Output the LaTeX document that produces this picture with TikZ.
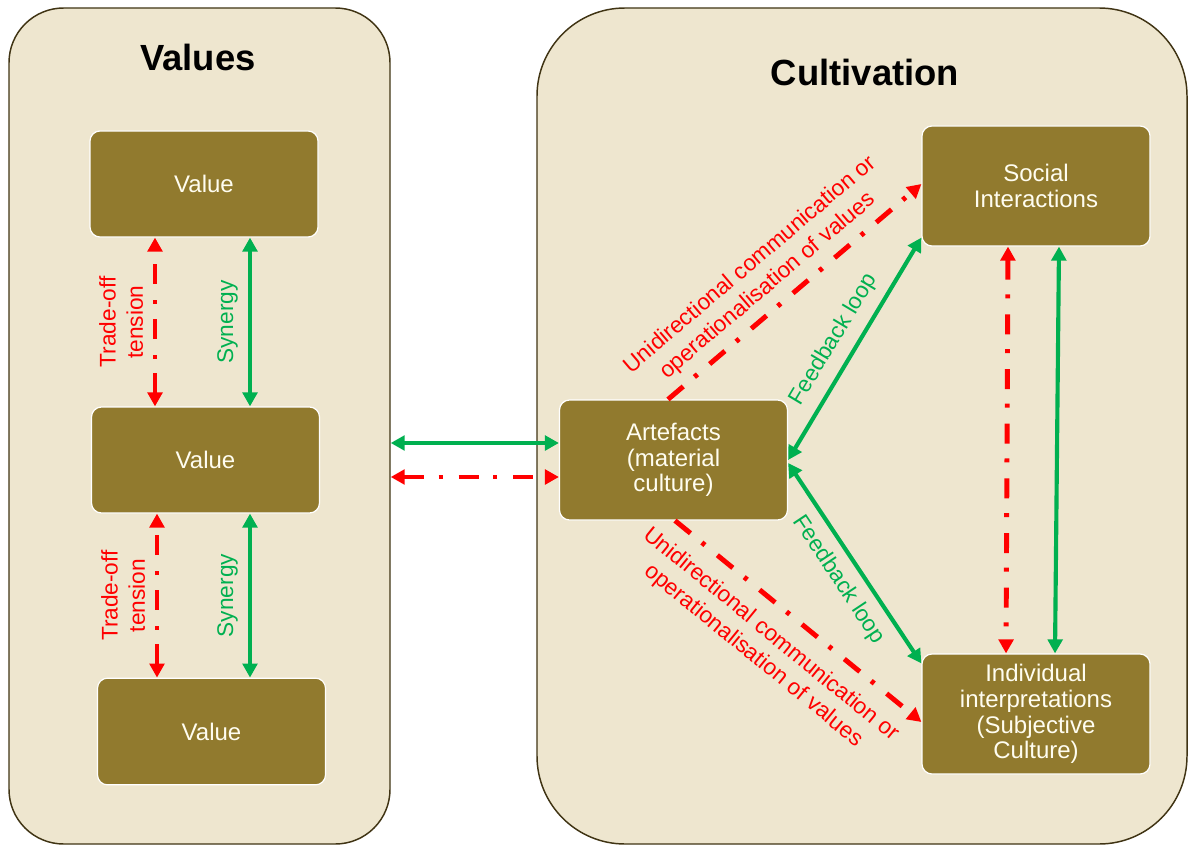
\documentclass[tikz,border=0pt]{standalone}
\usepackage{fontspec}
\setmainfont{Liberation Sans}
\usetikzlibrary{arrows.meta,calc}
\definecolor{panelfill}{RGB}{238,230,207}
\definecolor{paneledge}{RGB}{64,52,20}
\definecolor{boxfill}{RGB}{145,122,46}
\definecolor{boxtext}{RGB}{255,253,240}
\definecolor{tieRed}{RGB}{255,0,0}
\definecolor{tieGreen}{RGB}{0,176,80}

\begin{document}
\begin{tikzpicture}[x=0.75pt,y=-0.75pt,
  panel/.style={draw=paneledge, line width=1.1pt, fill=panelfill, minimum height=627pt, inner sep=0pt},
  item/.style={draw=white, line width=0.9pt, fill=boxfill, rounded corners=7.5pt, text=boxtext,
    align=center, font=\fontsize{18}{19.3}\selectfont, minimum width=171pt, inner sep=0pt},
  title/.style={font=\fontsize{27.3}{32}\selectfont\bfseries},
  greentie/.style={draw=tieGreen, line width=3.1pt},
  redtie/.style={draw=tieRed, line width=3.7pt, dash pattern=on 15pt off 11pt on 3pt off 12pt},
  twoheads/.style={{Triangle[length=10.5pt,width=11pt]}-{Triangle[length=10.5pt,width=11pt]}},
  onehead/.style={-{Triangle[length=10.5pt,width=11pt]}},
  lbl/.style={sloped, align=center, font=\fontsize{17}{20.5}\selectfont, inner sep=#1},
]
\useasboundingbox (0,0) rectangle (1188,845);

% the two panels
\node[panel, minimum width=285.75pt, rounded corners=41pt] (valpanel) at (199.5,426) {};
\node[panel, minimum width=487.5pt, rounded corners=66pt] (cultpanel) at (862,426) {};

\node[title] (valtitle) at (198,57) {Values};
\node[title] (culttitle) at (865,72) {Cultivation};

% value boxes
\node[item, minimum height=79.5pt] (v1) at (204,184) {Value};
\node[item, minimum height=79.5pt] (v2) at (205.5,460) {Value};
\node[item, minimum height=80pt] (v3) at (211.5,731.5) {Value};

% cultivation boxes
\node[item, minimum height=90pt] (art) at (673.5,460) {Artefacts\\(material\\culture)};
\node[item, minimum height=90pt] (soc) at (1036,186) {Social\\Interactions};
\node[item, minimum height=90pt] (ind) at (1036,714) {Individual\\interpretations\\(Subjective\\Culture)};

% relations between values
\draw[redtie, twoheads] ([shift={(-50.5,0)}]v2.north) --
  node[lbl=7pt, above, text=tieRed] {Trade-off\\tension} ([shift={(-49,0)}]v1.south);
\draw[greentie, twoheads] ([shift={(44.5,0)}]v2.north) --
  node[lbl=7.5pt, above, text=tieGreen] {Synergy} ([shift={(46,0)}]v1.south);
\draw[redtie, twoheads] ([shift={(-54.5,0)}]v3.north) --
  node[lbl=7pt, above, text=tieRed] {Trade-off\\tension} ([shift={(-48.5,0)}]v2.south);
\draw[greentie, twoheads] ([shift={(38.5,0)}]v3.north) --
  node[lbl=7.5pt, above, text=tieGreen] {Synergy} ([shift={(44.5,0)}]v2.south);

% links between the panels
\coordinate (gA) at ([shift={(0,-17)}]art.west);
\coordinate (rA) at ([shift={(0,17)}]art.west);
\draw[greentie, twoheads] (gA -| valpanel.east) -- (gA);
\draw[redtie, twoheads] (rA -| valpanel.east) -- (rA);

% cultivation relations
\draw[redtie, onehead] ([shift={(-5.5,0)}]art.north) --
  node[lbl=6.5pt, above, pos=0.45, text=tieRed] {Unidirectional communication or\\operationalisation of values}
  ([shift={(0,-2)}]soc.west);
\draw[greentie, twoheads] (art.east) --
  node[lbl=7.5pt, above, pos=0.49, text=tieGreen] {Feedback loop} ([shift={(0,-9)}]soc.south west);
\draw[greentie, twoheads] ([shift={(0,3)}]art.east) --
  node[lbl=7.5pt, below, pos=0.52, text=tieGreen] {Feedback loop} ([shift={(0,10)}]ind.north west);
\draw[redtie, onehead] ([shift={(1.5,0)}]art.south) --
  node[lbl=11pt, below, pos=0.46, text=tieRed] {Unidirectional communication or\\operationalisation of values}
  ([shift={(0,8)}]ind.west);

\draw[redtie, twoheads] ([shift={(-28,0)}]soc.south) -- ([shift={(-30,0)}]ind.north);
\draw[greentie, twoheads] ([shift={(23,0)}]soc.south) -- ([shift={(19,0)}]ind.north);
\end{tikzpicture}
\end{document}
